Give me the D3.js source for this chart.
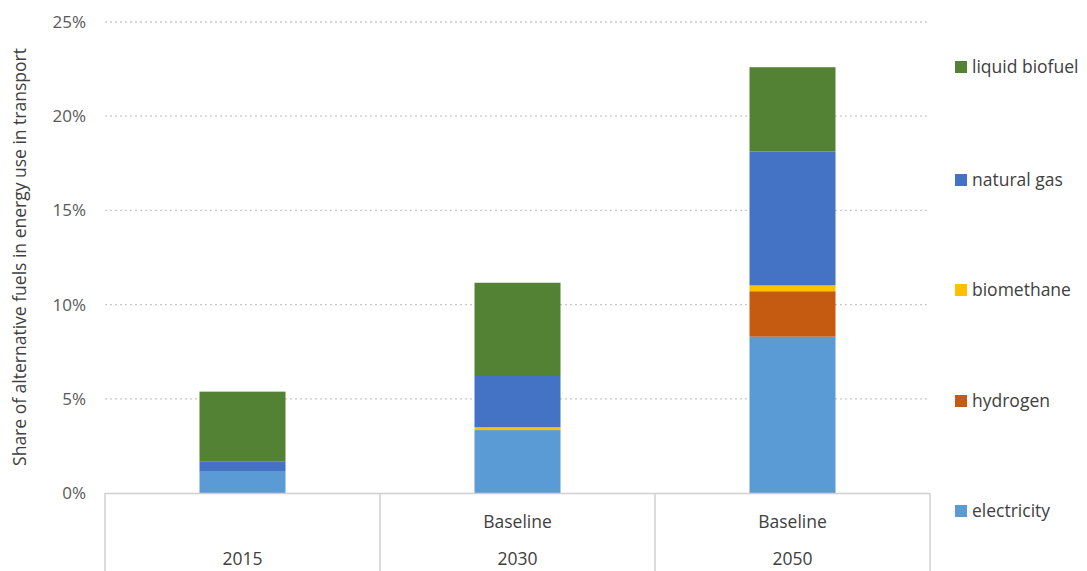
<!DOCTYPE html>
<html><head><meta charset="utf-8">
<script src="https://cdn.jsdelivr.net/npm/d3@7"></script>
<style>body{margin:0;background:#fff;} text{font-family:"Open Sans","Liberation Sans",sans-serif;}</style>
</head><body>
<svg id="c" width="1087" height="571"></svg>
<script>
const years = ["2015","2030","2050"];
const scenarios = ["","Baseline","Baseline"];
const seriesNames = ["electricity","hydrogen","biomethane","natural gas","liquid biofuel"];
const colors = ["#5b9bd5","#c55a11","#ffc000","#4472c4","#548235"];
const electricity = [1.13, 3.34, 8.30];
const hydrogen = [0, 0, 2.41];
const biomethane = [0, 0.15, 0.31];
const naturalGas = [0.53, 2.72, 7.10];
const liquidBiofuel = [3.72, 4.95, 4.48];
const yTicks = [0,5,10,15,20,25];

const svg = d3.select("#c");
const L=105, R=930, T=22, B=493;
const x = d3.scaleBand().domain(years).range([L,R]).paddingInner(0).paddingOuter(0);
const y = d3.scaleLinear().domain([0,25]).range([B,T]);

// gridlines
svg.append("g").selectAll("line").data(yTicks.filter(d=>d>0)).join("line")
  .attr("x1",L).attr("x2",R).attr("y1",d=>y(d)).attr("y2",d=>y(d))
  .attr("stroke","#c8c8c8").attr("stroke-width",1.3).attr("stroke-dasharray","2,3");

const table = years.map((yr,i)=>({year:yr, electricity:electricity[i], hydrogen:hydrogen[i], biomethane:biomethane[i], "natural gas":naturalGas[i], "liquid biofuel":liquidBiofuel[i]}));
const stack = d3.stack().keys(seriesNames)(table);
const bw = 86;
svg.append("g").selectAll("g").data(stack).join("g").attr("fill",(d,i)=>colors[i])
  .selectAll("rect").data(d=>d).join("rect")
  .attr("x",d=>x(d.data.year)+x.bandwidth()/2-bw/2).attr("width",bw)
  .attr("y",d=>y(d[1])).attr("height",d=>Math.max(0,y(d[0])-y(d[1])));

// baseline axis
svg.append("line").attr("x1",L).attr("x2",R).attr("y1",B+0.5).attr("y2",B+0.5).attr("stroke","#d0d0d0").attr("stroke-width",1.5);
// category separators
const seps = [L, ...years.map(d=>x(d)+x.bandwidth())];
svg.append("g").selectAll("line").data(seps).join("line")
  .attr("x1",d=>d).attr("x2",d=>d).attr("y1",B).attr("y2",571)
  .attr("stroke","#d0d0d0").attr("stroke-width",1.5);

// y tick labels
svg.append("g").selectAll("text").data(yTicks).join("text")
  .attr("x",86).attr("y",d=>y(d)).attr("dy","0.35em").attr("text-anchor","end")
  .attr("fill","#595959").attr("font-size",17).text(d=>d+"%");

// category labels
svg.append("g").selectAll("text").data(scenarios).join("text")
  .attr("x",(d,i)=>x(years[i])+x.bandwidth()/2).attr("y",522).attr("dy","0.35em")
  .attr("text-anchor","middle").attr("fill","#404040").attr("font-size",17.5).text(d=>d);
svg.append("g").selectAll("text").data(years).join("text")
  .attr("x",d=>x(d)+x.bandwidth()/2).attr("y",559).attr("dy","0.35em")
  .attr("text-anchor","middle").attr("fill","#404040").attr("font-size",17.5).text(d=>d);

// y title
svg.append("text").attr("transform","translate(20,257) rotate(-90)").attr("text-anchor","middle")
  .attr("dy","0.35em").attr("fill","#404040").attr("font-size",17.5)
  .text("Share of alternative fuels in energy use in transport");

// legend
const legY = {"liquid biofuel":67,"natural gas":180,"biomethane":290,"hydrogen":401,"electricity":511};
const leg = svg.append("g").selectAll("g").data(seriesNames).join("g")
  .attr("transform",d=>`translate(955,${legY[d]})`);
leg.append("rect").attr("x",0).attr("y",-6).attr("width",12).attr("height",12).attr("fill",(d,i)=>colors[i]);
leg.append("text").attr("x",17).attr("dy","0.35em").attr("fill","#404040").attr("font-size",17.5).text(d=>d);
</script>
</body></html>
